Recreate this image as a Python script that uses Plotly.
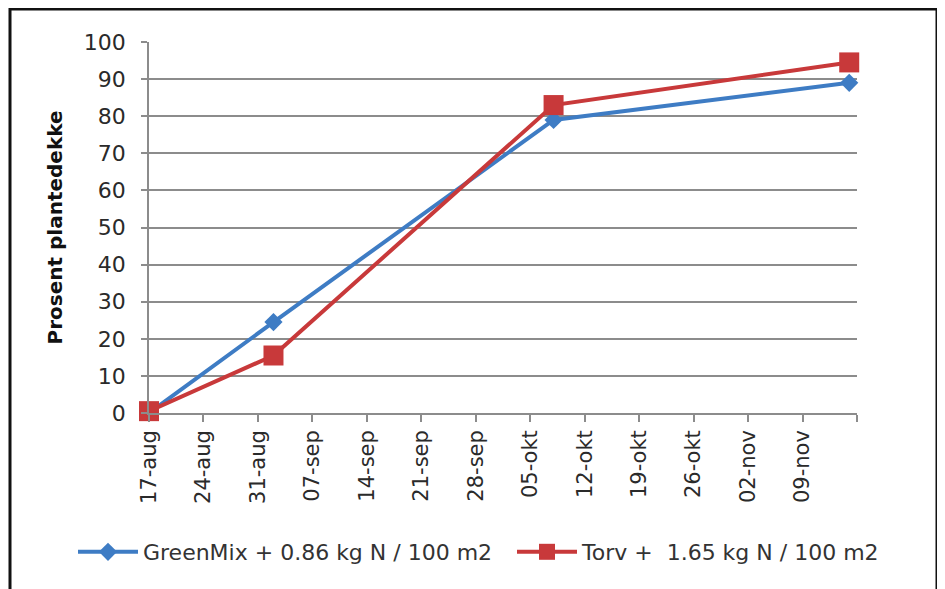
import plotly.graph_objects as go

# Data
dates = ["2010-08-17", "2010-09-02", "2010-10-08", "2010-11-15"]
greenmix = [0, 24.5, 79, 89]
torv = [0.5, 15.5, 83, 94.5]

series_names = ["GreenMix + 0.86 kg N / 100 m2", "Torv +  1.65 kg N / 100 m2"]

tick_dates = ["2010-08-17", "2010-08-24", "2010-08-31", "2010-09-07", "2010-09-14",
              "2010-09-21", "2010-09-28", "2010-10-05", "2010-10-12", "2010-10-19",
              "2010-10-26", "2010-11-02", "2010-11-09", "2010-11-16"]
tick_labels = ["17-aug", "24-aug", "31-aug", "07-sep", "14-sep", "21-sep", "28-sep",
               "05-okt", "12-okt", "19-okt", "26-okt", "02-nov", "09-nov", ""]
y_ticks = [0, 10, 20, 30, 40, 50, 60, 70, 80, 90, 100]

BLUE = "#3E7CC4"
RED = "#C8393A"
FONT = "DejaVu Sans"

fig = go.Figure()
fig.add_trace(go.Scatter(
    x=dates, y=greenmix, name=series_names[0], mode="lines+markers",
    line=dict(color=BLUE, width=4),
    marker=dict(symbol="diamond", size=14, color=BLUE),
    cliponaxis=False, legend="legend",
))
fig.add_trace(go.Scatter(
    x=dates, y=torv, name=series_names[1], mode="lines+markers",
    line=dict(color=RED, width=4),
    marker=dict(symbol="square", size=20, color=RED),
    cliponaxis=False, legend="legend2",
))

# page has an 8px body margin, so the figure is 8px smaller and margins shifted
L, T, R, B = 141, 34, 88, 176
W, H = 937, 581
PW = W - L - R
PH = H - T - B

leg_common = dict(
    orientation="h", xref="container", yref="container",
    xanchor="left", y=(H - 544) / H, yanchor="middle",
    font=dict(size=22, family=FONT, color="#333333"),
    itemwidth=60, bgcolor="rgba(0,0,0,0)",
)

fig.update_layout(
    width=W, height=H,
    margin=dict(l=L, r=R, t=T, b=B),
    paper_bgcolor="white", plot_bgcolor="white",
    font=dict(family=FONT, color="#222222"),
    showlegend=True,
    legend=dict(x=(75 - 10) / W, **leg_common),
    legend2=dict(x=(514 - 10) / W, **leg_common),
    xaxis=dict(
        type="date",
        range=["2010-08-17", "2010-11-16"],
        tickmode="array", tickvals=tick_dates, ticktext=tick_labels,
        tickangle=-90,
        tickfont=dict(size=21, family=FONT, color="#2a2a2a"),
        showgrid=False,
        showline=True, linecolor="#8c8c8c", linewidth=1.5,
        ticks="outside", ticklen=7, tickcolor="#8c8c8c", tickwidth=1.5,
        zeroline=False,
    ),
    yaxis=dict(
        range=[0, 100],
        tickmode="array", tickvals=y_ticks,
        tickfont=dict(size=22, family=FONT, color="#2a2a2a"),
        showgrid=True, gridcolor="#8c8c8c", gridwidth=1.5,
        showline=True, linecolor="#8c8c8c", linewidth=1.5,
        ticks="outside", ticklen=6, tickcolor="#8c8c8c", tickwidth=1.5,
        ticklabelstandoff=11,
        zeroline=False,
        title=dict(text="<b>Prosent plantedekke</b>",
                   font=dict(size=20, family=FONT, color="#111111"),
                   standoff=16),
    ),
    shapes=[dict(
        type="rect", xref="paper", yref="paper",
        x0=(2 - L) / PW, x1=(929 - L) / PW,
        y0=-1.0, y1=(T + PH - 1) / PH,
        line=dict(color="#111111", width=3),
        fillcolor="rgba(0,0,0,0)", layer="above",
    )],
)

fig.write_html("out.html")
